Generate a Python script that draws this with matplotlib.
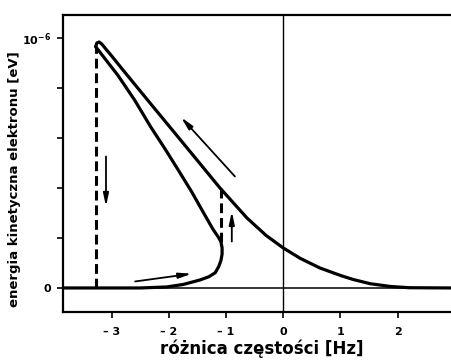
import numpy as np
import matplotlib.pyplot as plt

plt.rcParams['font.family'] = ['DejaVu Sans']
plt.rcParams['font.weight'] = 'bold'

# energy in units of 1e-6 eV, frequency difference in Hz
upper_x = [-3.28, -3.26, -3.22, -3.17, -3.1, -3.0, -2.8, -2.33, -1.8, -1.107, -0.635,
           -0.3, 0.0, 0.3, 0.64, 1.0, 1.22, 1.52, 1.87, 2.2, 2.95]
upper_y = [0.965, 0.98, 0.984, 0.975, 0.955, 0.928, 0.871, 0.74, 0.593, 0.40, 0.28,
           0.21, 0.16, 0.118, 0.08, 0.05, 0.034, 0.017, 0.006, 0.001, 0.0]

lower_x = [-3.28, -3.1, -2.89, -2.6, -2.32, -2.05, -1.81, -1.6, -1.4, -1.23, -1.14, -1.09, -1.07,
           -1.07, -1.09, -1.13, -1.19, -1.3, -1.456, -1.75, -2.04, -2.5, -3.86]
lower_y = [0.965, 0.912, 0.85, 0.752, 0.645, 0.55, 0.462, 0.384, 0.303, 0.235, 0.205, 0.185, 0.16,
           0.135, 0.11, 0.085, 0.061, 0.045, 0.032, 0.014, 0.004, 0.0, 0.0]

# jumps (dashed)
jump_x = [-3.275, -1.085]
jump_bottom = [0.0, 0.185]
jump_top = [0.965, 0.40]

# arrows: (start, end)
arrows = [((-3.10, 0.526), (-3.10, 0.326)),
          ((-0.845, 0.446), (-1.788, 0.683)),
          ((-0.90, 0.186), (-0.90, 0.306)),
          ((-2.59, 0.026), (-1.60, 0.057))]

xticks = [-3, -2, -1, 0, 1, 2]
xtick_labels = ['\u2013 3', '\u2013 2', '\u2013 1', '0', '1', '2']
yticks = [0, 0.2, 0.4, 0.6, 0.8, 1.0]
ytick_labels = ['0', '', '', '', '', r'$\mathbf{10^{-6}}$']

fig = plt.figure(figsize=(4.52, 3.63), dpi=100)
ax = fig.add_axes([0.1387, 0.1413, 0.8613, 0.8174])

ax.axhline(0, color='black', lw=1.1)
ax.axvline(0, color='black', lw=1.0)

ax.plot(upper_x, upper_y, color='black', lw=2.3, solid_joinstyle='round', solid_capstyle='round')
ax.plot(lower_x, lower_y, color='black', lw=2.3, solid_joinstyle='round', solid_capstyle='round')

for x, y0, y1 in zip(jump_x, jump_bottom, jump_top):
    ax.plot([x, x], [y0, y1], color='black', lw=2.2, dashes=(3.2, 1.6))

for (s, e) in arrows:
    ax.annotate('', xy=e, xytext=s,
                arrowprops=dict(arrowstyle='-|>,head_length=0.75,head_width=0.16',
                                color='black', lw=1.3, shrinkA=0, shrinkB=0))

ax.set_xlim(-3.857, 2.95)
ax.set_ylim(-0.095, 1.092)

ax.spines['right'].set_visible(False)
for s in ['left', 'bottom', 'top']:
    ax.spines[s].set_linewidth(1.6)

ax.set_xticks(xticks)
ax.set_xticklabels(xtick_labels, fontsize=8, fontweight='bold')
ax.set_yticks(yticks)
ax.set_yticklabels(ytick_labels, fontsize=8, fontweight='bold')
ax.tick_params(axis='both', direction='out', length=4, width=1.2)
ax.tick_params(axis='x', pad=7)
ax.tick_params(axis='y', pad=4)

ax.set_xlabel('różnica częstości [Hz]', fontsize=12, fontweight='bold')
ax.set_ylabel('energia kinetyczna elektronu [eV]', fontsize=9.5, fontweight='bold')
ax.xaxis.set_label_coords(0.512, -0.092)
ax.yaxis.set_label_coords(-0.107, 0.447)

fig.savefig('out.png', dpi=100)
